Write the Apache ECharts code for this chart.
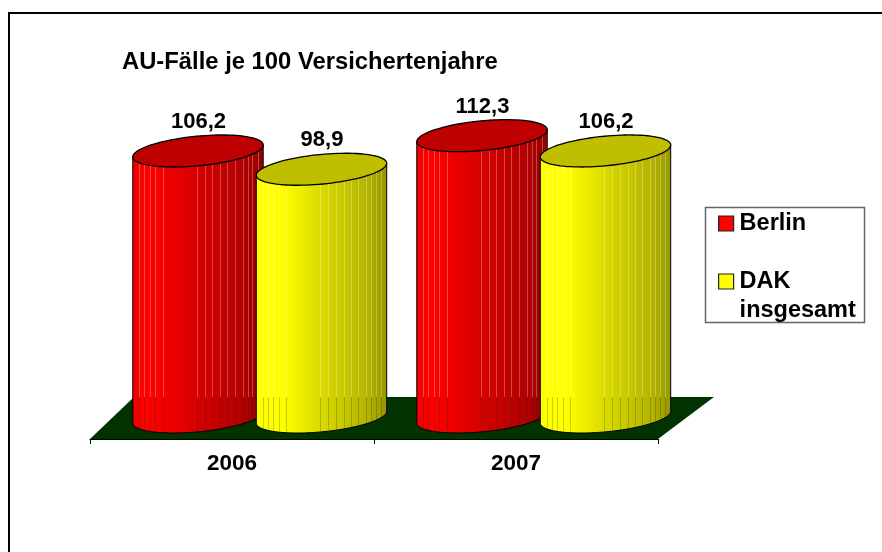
<!DOCTYPE html>
<html><head><meta charset="utf-8">
<style>html,body{margin:0;padding:0;background:#fff}#c{width:882px;height:552px}</style>
<script src="https://cdn.jsdelivr.net/npm/echarts@6/dist/echarts.min.js"></script>
</head><body><div id="c"></div>
<script>
const titleText = 'AU-Fälle je 100 Versichertenjahre';
const categories = ['2006', '2007'];
const berlin = [106.2, 112.3];
const dak = [98.9, 106.2];
const seriesNames = ['Berlin', 'DAK\ninsgesamt'];

const FONT = '"Liberation Sans", Arial, sans-serif';
const RX = 65.5, RY = 14.8, TILT = -5.5 * Math.PI / 180;
const seams = [.053,.09,.13,.175,.23,.49,.55,.61,.67,.725,.78,.84,.88,.915,.955];
const FLOOR_DX = 56, FLOOR_DY = 42, AXIS_DROP = 22;

function ell(cx, cy, t) {
  const c = Math.cos(t), s = Math.sin(t), cp = Math.cos(TILT), sp = Math.sin(TILT);
  return [cx + RX * c * cp - RY * s * sp, cy + RX * c * sp + RY * s * cp];
}
function extremeT() { return Math.atan2(-RY * Math.sin(TILT), RX * Math.cos(TILT)); }
function arc(cx, cy, from, to, n) {
  const p = [];
  for (let i = 0; i <= n; i++) p.push(ell(cx, cy, from + (to - from) * i / n));
  return p;
}
function frontY(cx, cy, x) {
  const pts = arc(cx, cy, extremeT(), extremeT() + Math.PI, 120);
  let best = pts[0];
  pts.forEach(q => { if (Math.abs(q[0] - x) < Math.abs(best[0] - x)) best = q; });
  return best[1];
}
function cylinder(shift, stops, topColor) {
  return function (params, api) {
    const v = api.value(1);
    const top = api.coord([api.value(0), v]);
    const base = api.coord([api.value(0), 0]);
    const cx = top[0] + shift, ty = top[1], by = base[1];
    const t0 = extremeT();
    const body = [].concat(
      [ell(cx, ty, t0 + Math.PI)],
      arc(cx, by, t0 + Math.PI, t0, 60),
      [ell(cx, ty, t0)]
    );
    const kids = [{
      type: 'polygon', shape: { points: body },
      style: { fill: new echarts.graphic.LinearGradient(0, 0, 1, 0, stops), stroke: '#000', lineWidth: 1 }
    }];
    const backY = by - 20;
    const left = cx - RX;
    seams.forEach(f => {
      const x = Math.round(left + f * RX * 2) + 0.5;
      const y1 = frontY(cx, ty, x), y2 = frontY(cx, by, x);
      kids.push({ type: 'line', shape: { x1: x, y1: y1, x2: x, y2: backY },
        style: { stroke: 'rgba(255,255,255,0.28)', lineWidth: 1 } });
      kids.push({ type: 'line', shape: { x1: x, y1: backY, x2: x, y2: y2 - 1 },
        style: { stroke: 'rgba(0,50,0,0.22)', lineWidth: 1 } });
    });
    kids.push({
      type: 'polygon', shape: { points: arc(cx, ty, 0, Math.PI * 2, 96) },
      style: { fill: topColor, stroke: '#000', lineWidth: 1.3 }
    });
    kids.push({
      type: 'text',
      style: { x: cx + 0.5, y: ty - 29, text: v.toFixed(1).replace('.', ','), fill: '#000',
        font: 'bold 22px ' + FONT, align: 'center', verticalAlign: 'middle' }
    });
    return { type: 'group', children: kids };
  };
}
function floor(params, api) {
  const g = params.coordSys, y = g.y + g.height + AXIS_DROP;
  return {
    type: 'polygon',
    shape: { points: [[g.x, y], [g.x + g.width, y], [g.x + g.width + FLOOR_DX, y - FLOOR_DY], [g.x + FLOOR_DX - 12, y - FLOOR_DY]] },
    style: { fill: '#003300' }
  };
}
const icon = 'path://M0,0H15V15H0Z M16,45L16,45Z';
const chart = echarts.init(document.getElementById('c'), null, { renderer: 'canvas' });
chart.setOption({
  animation: false,
  backgroundColor: '#fff',
  title: { text: titleText, left: 122, top: 50, padding: 0,
    textStyle: { fontFamily: FONT, fontWeight: 'bold', fontSize: 23.8, color: '#000' } },
  legend: {
    data: seriesNames.map(n => ({ name: n, icon })),
    orient: 'vertical', left: 718, top: 209.5, itemGap: 0, itemWidth: 16, itemHeight: 45,
    padding: 0, selectedMode: false,
    itemStyle: { borderColor: '#222', borderWidth: 1.2 },
    formatter: n => n.indexOf('\n') >= 0 ? n : n + '\n ',
    textStyle: { fontFamily: FONT, fontWeight: 'bold', fontSize: 23.5, lineHeight: 29, color: '#000' }
  },
  grid: { left: 90, right: 224, top: 116.4, height: 300.6 },
  xAxis: {
    type: 'category', data: categories, offset: AXIS_DROP,
    axisLine: { onZero: false, lineStyle: { color: '#000', width: 1 } },
    axisTick: { show: true, length: 5, lineStyle: { color: '#000' } },
    axisLabel: { fontFamily: FONT, fontWeight: 'bold', fontSize: 22.5, color: '#000', margin: 13 }
  },
  yAxis: { type: 'value', min: 0, max: 120, show: false, splitLine: { show: false } },
  graphic: [
    { type: 'polyline', silent: true, shape: { points: [[9, 552], [9, 13], [882, 13]] },
      style: { stroke: '#000', lineWidth: 2, fill: null } },
    { type: 'rect', silent: true, shape: { x: 705.5, y: 207.5, width: 159, height: 115 },
      style: { stroke: '#666', lineWidth: 1.5, fill: '#fff' } }
  ],
  series: [
    { type: 'custom', silent: true, z: 1, data: [[0, 0]], renderItem: floor, encode: { x: 0, y: 1 } },
    { type: 'custom', name: seriesNames[0], z: 2, itemStyle: { color: '#ff0000' },
      data: berlin.map((v, i) => [i, v]), encode: { x: 0, y: 1 },
      renderItem: cylinder(-34, [
        { offset: 0, color: '#f00000' }, { offset: .12, color: '#ff0000' }, { offset: .3, color: '#ea0000' },
        { offset: .6, color: '#cc0000' }, { offset: .85, color: '#b00000' }, { offset: 1, color: '#960000' }], '#bf0000') },
    { type: 'custom', name: seriesNames[1], z: 3, itemStyle: { color: '#ffff00' },
      data: dak.map((v, i) => [i, v]), encode: { x: 0, y: 1 },
      renderItem: cylinder(89.5, [
        { offset: 0, color: '#ffff00' }, { offset: .2, color: '#ffff00' }, { offset: .5, color: '#dada00' },
        { offset: .85, color: '#b4b400' }, { offset: 1, color: '#959500' }], '#bfbf00') }
  ]
});
</script></body></html>
